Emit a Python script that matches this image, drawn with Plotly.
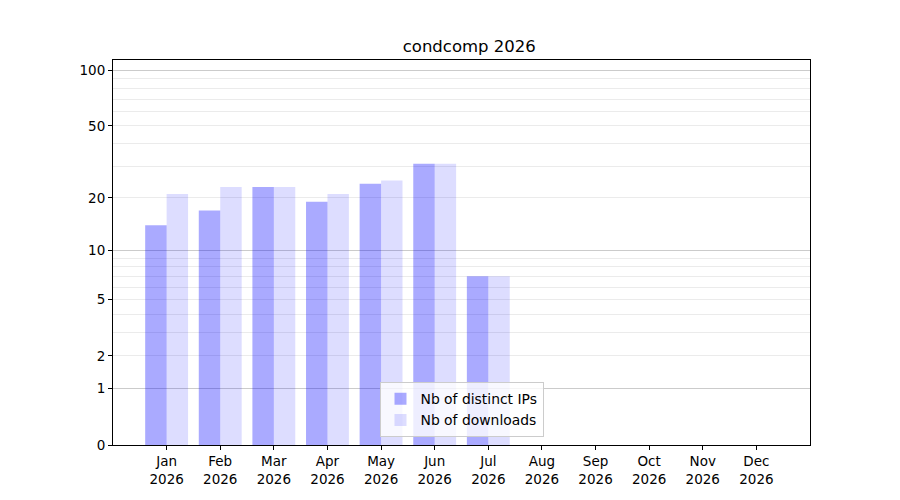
import plotly.graph_objs as go

# 月份标签
months = ['Jan', 'Feb', 'Mar', 'Apr', 'May', 'Jun', 'Jul',
          'Aug', 'Sep', 'Oct', 'Nov', 'Dec']
year = '2026'

# 数值（Jan - Jul）
distinct_ips = [14, 17, 23, 19, 24, 31, 7]
downloads = [21, 23, 23, 21, 25, 31, 7]

# y 轴刻度（原图为 log(1+v) 刻度）
y_labels = [0, 1, 2, 5, 10, 20, 50, 100]
major_grid = [1, 10, 100]
minor_grid = [2, 3, 4, 5, 6, 7, 8, 9, 20, 30, 40, 50, 60, 70, 80, 90]


def shift(values):
    """log 轴上画 log(1+v)"""
    return [v + 1 for v in values]


def bar_chart():
    font = dict(family='DejaVu Sans', size=13.5, color='black')
    x_pos = list(range(len(distinct_ips)))

    fig = go.Figure()
    # base=1 即 log(1+0)，柱顶在 1+v
    fig.add_trace(go.Bar(
        x=x_pos, y=distinct_ips, base=1,
        name='Nb of distinct IPs',
        marker=dict(color='rgba(0,0,255,0.333)', line=dict(width=0)),
    ))
    fig.add_trace(go.Bar(
        x=x_pos, y=downloads, base=1,
        name='Nb of downloads',
        marker=dict(color='rgba(0,0,255,0.133)', line=dict(width=0)),
    ))
    # 占位，让 yaxis2 的主网格线画出来
    fig.add_trace(go.Scatter(
        x=[0], y=[1], yaxis='y2', mode='markers',
        marker=dict(opacity=0), showlegend=False, hoverinfo='skip',
    ))

    y_range = [0, 2.06]

    fig.update_layout(
        width=900, height=500,
        paper_bgcolor='white', plot_bgcolor='white',
        font=font,
        margin=dict(l=105, r=98, t=52, b=63),
        barmode='group', bargap=0.2, bargroupgap=0,
        title=dict(text='condcomp ' + year, x=0.5125, xanchor='center',
                   y=0.924, yanchor='middle',
                   font=dict(family='DejaVu Sans', size=16.5, color='black')),
        showlegend=True,
        legend=dict(x=0.5, xanchor='center', y=0.02, yanchor='bottom',
                    bgcolor='rgba(255,255,255,0.8)', bordercolor='#cccccc',
                    borderwidth=1, traceorder='normal',
                    font=dict(family='DejaVu Sans', size=13.9, color='black'),
                    itemwidth=30, tracegroupgap=0),
        xaxis=dict(
            range=[-1, len(months)],
            tickmode='array',
            tickvals=list(range(len(months))),
            ticktext=[m + '<br>' + year for m in months],
            ticks='outside', ticklen=4, tickcolor='black',
            showline=True, linecolor='black', linewidth=1, mirror=True,
            showgrid=False, zeroline=False,
        ),
        yaxis=dict(
            type='log', range=y_range,
            tickmode='array',
            tickvals=shift(y_labels),
            ticktext=[str(v) for v in y_labels],
            ticks='outside', ticklen=4, tickcolor='black',
            showline=True, linecolor='black', linewidth=1, mirror=True,
            showgrid=False, zeroline=False,
            minor=dict(tickmode='array', tickvals=shift(minor_grid),
                       showgrid=True, gridcolor='#ebebeb', gridwidth=1,
                       ticks=''),
        ),
        yaxis2=dict(
            type='log', range=y_range, overlaying='y', side='left',
            tickmode='array', tickvals=shift(major_grid),
            showticklabels=False, ticks='',
            showgrid=True, gridcolor='#cbcbcb', gridwidth=1,
            showline=False, zeroline=False,
        ),
    )

    fig.write_html('out.html')


if __name__ == '__main__':
    bar_chart()
